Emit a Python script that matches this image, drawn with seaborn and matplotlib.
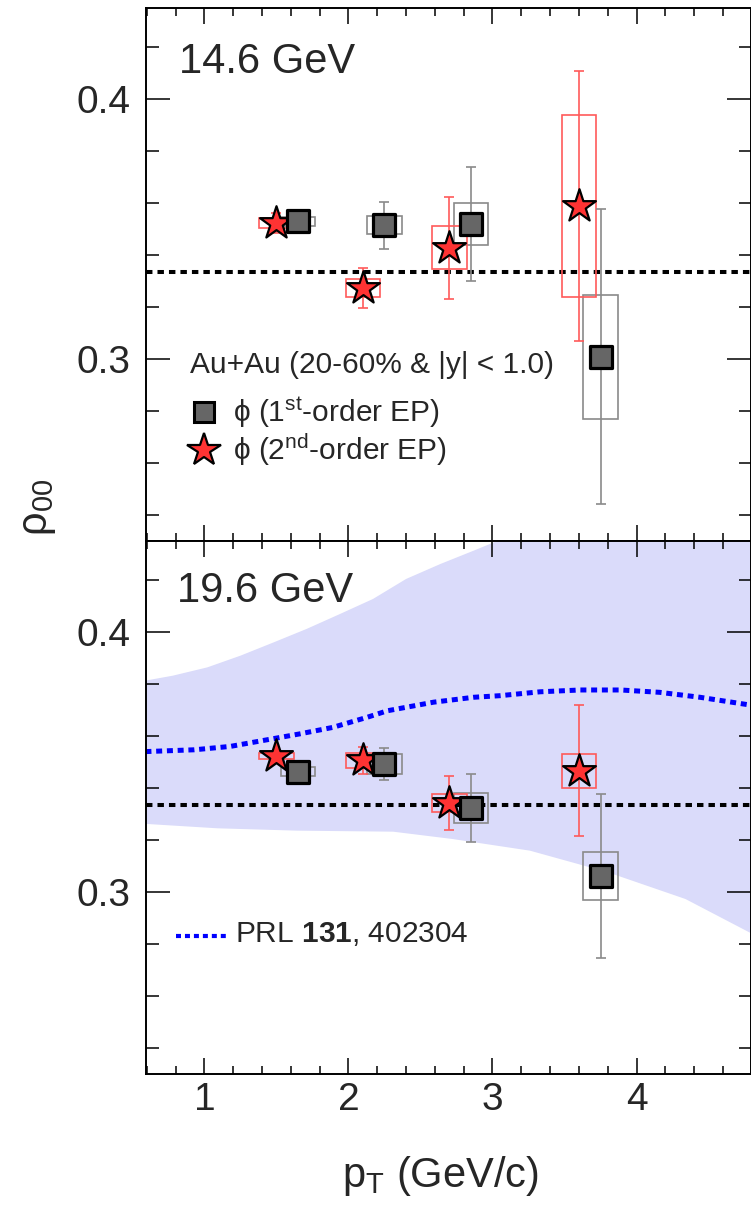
import numpy as np
import matplotlib
matplotlib.use("Agg")
import matplotlib.pyplot as plt
from matplotlib.patches import Rectangle
from matplotlib.ticker import MultipleLocator
import seaborn as sns
import pandas as pd

# ---------------- data ----------------
pt_sq = [1.65, 2.25, 2.85, 3.75]   # 1st-order EP
pt_st = [1.50, 2.10, 2.70, 3.60]   # 2nd-order EP

# 14.6 GeV
top_sq_val = [0.3530, 0.3515, 0.3520, 0.3009]
top_sq_stat = [0.0025, 0.0090, 0.0220, 0.0567]
top_sq_sys = [0.0018, 0.0035, 0.0080, 0.0239]
top_st_val = [0.3523, 0.3273, 0.3428, 0.3589]
top_st_stat = [0.0040, 0.0077, 0.0197, 0.0519]
top_st_sys = [0.0020, 0.0035, 0.0082, 0.0349]

# 19.6 GeV
bot_sq_val = [0.3463, 0.3492, 0.3323, 0.3062]
bot_sq_stat = [0.0015, 0.0061, 0.0130, 0.0316]
bot_sq_sys = [0.0017, 0.0039, 0.0058, 0.0093]
bot_st_val = [0.3524, 0.3506, 0.3343, 0.3466]
bot_st_stat = [0.0020, 0.0052, 0.0105, 0.0252]
bot_st_sys = [0.0012, 0.0030, 0.0034, 0.0066]

# PRL 131, 402304 model curve and band (19.6 GeV)
model_pt = [0.59, 0.93, 1.18, 1.43, 1.66, 1.89, 2.13, 2.27, 2.59, 2.87,
            3.05, 3.33, 3.61, 3.89, 4.16, 4.44, 4.79]
model_val = [0.3540, 0.3547, 0.3560, 0.3585, 0.3608, 0.3633, 0.3672, 0.3697,
             0.3730, 0.3749, 0.3755, 0.3770, 0.3777, 0.3777, 0.3768, 0.3749, 0.3719]
band_up_pt = [0.59, 0.78, 1.02, 1.25, 1.48, 1.71, 1.94, 2.17, 2.40, 2.64,
              2.87, 3.05, 3.50, 4.00, 4.50, 4.80]
band_up_val = [0.3813, 0.3832, 0.3864, 0.3909, 0.3960, 0.4012, 0.4069, 0.4127,
               0.4204, 0.4262, 0.4313, 0.4354, 0.4430, 0.4500, 0.4550, 0.4570]
band_lo_pt = [0.59, 1.09, 1.64, 2.31, 2.72, 3.26, 3.80, 4.34, 4.80]
band_lo_val = [0.3262, 0.3245, 0.3236, 0.3232, 0.3204, 0.3159, 0.3076, 0.2973, 0.2840]

energies = ["14.6 GeV", "19.6 GeV"]
rho_ref = 1.0 / 3.0

# ---------------- style ----------------
sns.set_theme(style="ticks")
plt.rcParams["font.family"] = ["Liberation Sans", "DejaVu Sans"]
plt.rcParams["mathtext.fontset"] = "custom"
plt.rcParams["mathtext.rm"] = "Liberation Sans"
plt.rcParams["mathtext.it"] = "Liberation Sans:italic"
plt.rcParams["mathtext.bf"] = "Liberation Sans:bold"
plt.rcParams["axes.linewidth"] = 1.4

SQ_FILL = "#666666"
ST_FILL = "#ff3333"
SQ_LINE = "#8a8a8a"
ST_LINE = "#ff5a5a"
BAND = "#dadbfa"

fig = plt.figure(figsize=(7.51, 12.09), dpi=100)
W, H = 751.0, 1209.0
left = 146 / W
width = 605 / W
ax_top = fig.add_axes([left, 1 - 541 / H, width, 533 / H])
ax_bot = fig.add_axes([left, 1 - 1074 / H, width, 533 / H])

XLIM = (0.594, 4.795)
YLIM = (0.23, 0.435)
BOXW = 0.12


def draw_panel(ax, sq_val, sq_stat, sq_sys, st_val, st_stat, st_sys):
    ax.set_xlim(*XLIM)
    ax.set_ylim(*YLIM)
    ax.axhline(rho_ref, color="black", lw=2.9, dashes=(1.6, 1.25), zorder=2)
    # systematic boxes
    for x, y, s in zip(pt_sq, sq_val, sq_sys):
        ax.add_patch(Rectangle((x - BOXW, y - s), 2 * BOXW, 2 * s, fill=False,
                               edgecolor=SQ_LINE, lw=1.2, zorder=3))
    for x, y, s in zip(pt_st, st_val, st_sys):
        ax.add_patch(Rectangle((x - BOXW, y - s), 2 * BOXW, 2 * s, fill=False,
                               edgecolor=ST_LINE, lw=1.2, zorder=3))
    # statistical error bars
    ax.errorbar(pt_sq, sq_val, yerr=sq_stat, fmt="none", ecolor=SQ_LINE,
                elinewidth=1.2, capsize=3.5, capthick=1.2, zorder=3)
    ax.errorbar(pt_st, st_val, yerr=st_stat, fmt="none", ecolor=ST_LINE,
                elinewidth=1.2, capsize=3.5, capthick=1.2, zorder=3)
    # markers
    df_st = pd.DataFrame({"pt": pt_st, "rho": st_val})
    df_sq = pd.DataFrame({"pt": pt_sq, "rho": sq_val})
    sns.scatterplot(data=df_st, x="pt", y="rho", ax=ax, marker="*", s=620,
                    color=ST_FILL, edgecolor="black", linewidth=1.6, zorder=5)
    sns.scatterplot(data=df_sq, x="pt", y="rho", ax=ax, marker="s", s=250,
                    color=SQ_FILL, edgecolor="black", linewidth=2.3, zorder=6)
    ax.set_xlabel("")
    ax.set_ylabel("")
    # ticks
    ax.xaxis.set_major_locator(MultipleLocator(1.0))
    ax.xaxis.set_minor_locator(MultipleLocator(0.2))
    ax.yaxis.set_major_locator(MultipleLocator(0.1))
    ax.yaxis.set_minor_locator(MultipleLocator(0.02))
    ax.yaxis.set_major_formatter(matplotlib.ticker.FormatStrFormatter("%.1f"))
    ax.tick_params(axis="both", which="both", direction="in", top=True, right=True,
                   color="black", width=1.1)
    ax.tick_params(axis="x", which="major", length=11.5, labelsize=28, pad=6)
    ax.tick_params(axis="x", which="minor", length=6)
    ax.tick_params(axis="y", which="major", length=17, labelsize=28, pad=11)
    ax.tick_params(axis="y", which="minor", length=9)
    for sp in ax.spines.values():
        sp.set_visible(True)
        sp.set_color("black")


# ---- top panel ----
draw_panel(ax_top, top_sq_val, top_sq_stat, top_sq_sys,
           top_st_val, top_st_stat, top_st_sys)
ax_top.tick_params(axis="x", labelbottom=False)
ax_top.text(0.822, 0.41, energies[0], fontsize=30, va="baseline", ha="left")

# legend (top panel)
ax_top.text(0.899, 0.2946, "Au+Au (20-60% & |y| < 1.0)", fontsize=21.5,
            va="baseline", ha="left")
ax_top.plot([1.0], [0.2796], marker="s", ms=14, mfc=SQ_FILL, mec="black",
            mew=2.2, ls="none", clip_on=False, zorder=6)
ax_top.text(1.195, 0.2758, r"ϕ (1$^{\mathrm{st}}$-order EP)", fontsize=21.5,
            va="baseline", ha="left")
ax_top.plot([1.0], [0.2650], marker="*", ms=25, mfc=ST_FILL, mec="black",
            mew=1.6, ls="none", clip_on=False, zorder=6)
ax_top.text(1.195, 0.2612, r"ϕ (2$^{\mathrm{nd}}$-order EP)", fontsize=21.5,
            va="baseline", ha="left")

# ---- bottom panel ----
poly_x = list(band_up_pt) + list(band_lo_pt[::-1])
poly_y = list(band_up_val) + list(band_lo_val[::-1])
ax_bot.fill(poly_x, poly_y, color=BAND, lw=0, zorder=0.5)
ax_bot.plot(model_pt, model_val, color="#0000ff", lw=3.6, dashes=(1.2, 0.95),
            zorder=2.5)
draw_panel(ax_bot, bot_sq_val, bot_sq_stat, bot_sq_sys,
           bot_st_val, bot_st_stat, bot_st_sys)
ax_bot.text(0.81, 0.4115, energies[1], fontsize=30, va="baseline", ha="left")
ax_bot.plot([0.80, 1.156], [0.2832, 0.2832], color="#0000ff", lw=3.0,
            dashes=(1.2, 0.95))
ax_bot.text(1.211, 0.2808, r"PRL $\mathbf{131}$, 402304", fontsize=21.5,
            va="baseline", ha="left")

# axis titles
fig.text(440 / W, 1 - 1187 / H, r"p$_{\mathrm{T}}$ (GeV/c)", fontsize=30,
         ha="center", va="baseline")
fig.text(38 / W, 1 - 507 / H, r"ρ$_{\mathrm{00}}$", fontsize=30, rotation=90,
         ha="center", va="center")

fig.savefig("out.png", dpi=100)
